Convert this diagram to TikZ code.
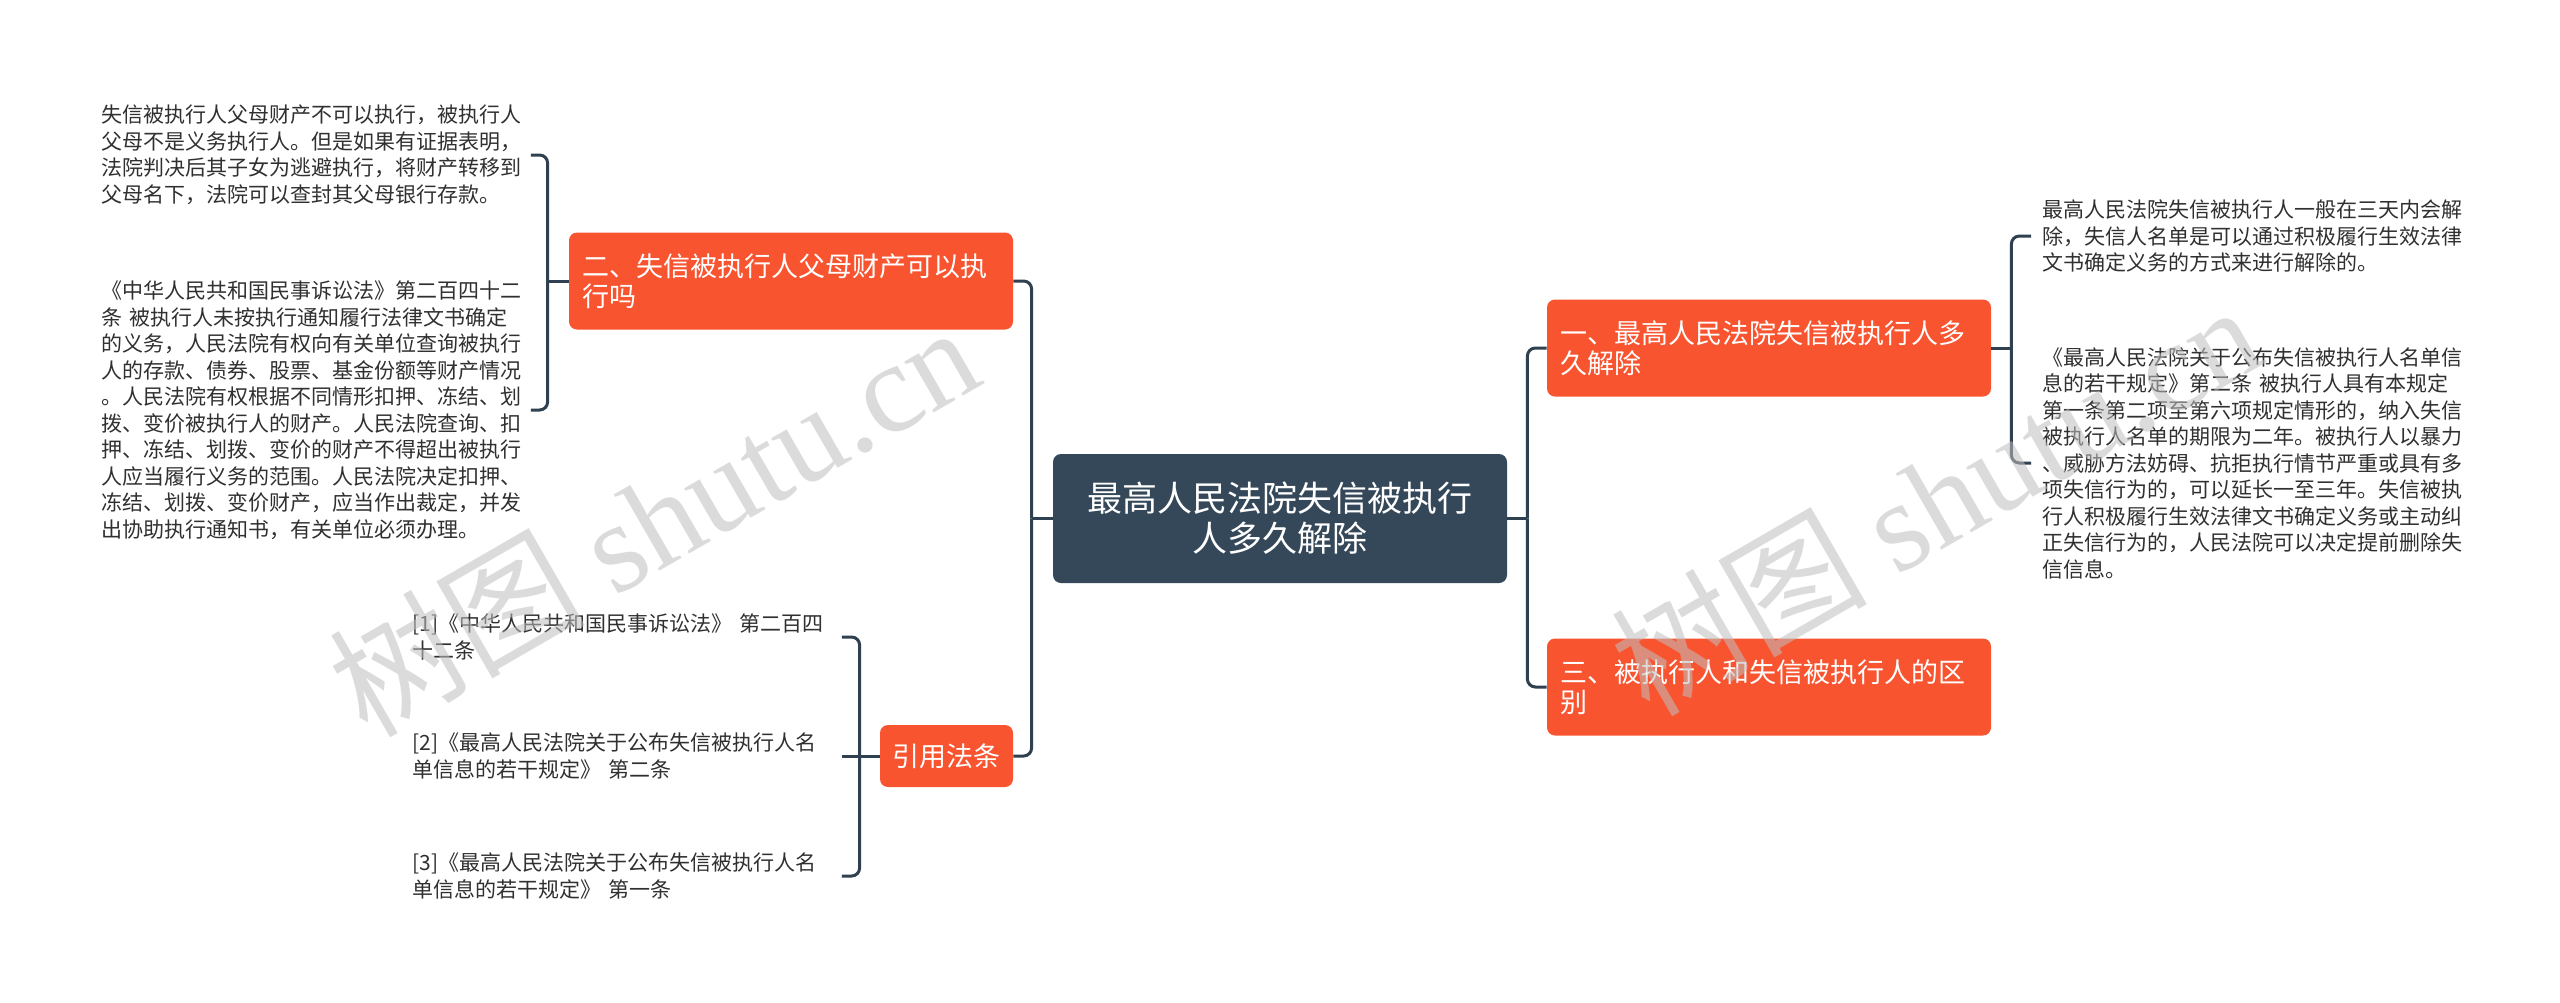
\documentclass[tikz,border=0pt]{standalone}
\usepackage{fontspec}
\setmainfont{Noto Sans CJK SC}
\newfontfamily\wmserif{Liberation Serif}
\usepackage{xcolor}
\usepackage{tikz}

\definecolor{rootblue}{HTML}{354859}
\definecolor{topicred}{HTML}{F95430}
\definecolor{linkblue}{HTML}{2F4051}
\definecolor{leafgray}{HTML}{303030}

\begin{document}
\begin{tikzpicture}[
  x=0.5pt, y=-0.5pt,
  every node/.style={inner sep=0pt},
  root/.style={fill=rootblue, rounded corners=4pt, text=white, minimum width=227pt, minimum height=64.5pt, align=center, font=\fontsize{17.5}{20}\selectfont},
  topic/.style={fill=topicred, rounded corners=4pt, text=white, text width=209pt, inner xsep=6.5pt, minimum height=48.5pt, align=left, font=\fontsize{13.5}{15}\selectfont},
  lawtag/.style={fill=topicred, rounded corners=4pt, text=white, minimum width=66.5pt, minimum height=31pt, align=center, font=\fontsize{13.5}{15}\selectfont},
  leaf/.style={text=leafgray, text width=209pt, inner xsep=5.5pt, align=left, font=\fontsize{10.5}{13.25}\selectfont},
  link/.style={draw=linkblue, line width=1.5pt, rounded corners=4pt},
  wmark/.style={text=gray!50, opacity=0.55, font=\fontsize{64}{64}\selectfont}
]

\fill[white] (0,0) rectangle (2560,1002);
\useasboundingbox (0,0) rectangle (2560,1002);

\node[root] (root) at (1280,518.5) {最高人民法院失信被执行\\人多久解除};

\node[topic] (fumu) at (791,281) {二、失信被执行人父母财产可以执\\行吗};
\node[lawtag] (fatiao) at (946.5,756) {引用法条};
\node[topic] (jiechu) at (1769,348) {一、最高人民法院失信被执行人多\\久解除};
\node[topic] (qubie) at (1769,687) {三、被执行人和失信被执行人的区\\别};

\node[leaf, anchor=west] (fumu1) at (90,155) {失信被执行人父母财产不可以执行，被执行人\\父母不是义务执行人。但是如果有证据表明，\\法院判决后其子女为逃避执行，将财产转移到\\父母名下，法院可以查封其父母银行存款。};
\node[leaf, anchor=west] (fumu2) at (90,410) {《中华人民共和国民事诉讼法》第二百四十二\\条 被执行人未按执行通知履行法律文书确定\\的义务，人民法院有权向有关单位查询被执行\\人的存款、债券、股票、基金份额等财产情况\\。人民法院有权根据不同情形扣押、冻结、划\\拨、变价被执行人的财产。人民法院查询、扣\\押、冻结、划拨、变价的财产不得超出被执行\\人应当履行义务的范围。人民法院决定扣押、\\冻结、划拨、变价财产，应当作出裁定，并发\\出协助执行通知书，有关单位必须办理。};

\node[leaf, anchor=west] (fatiao1) at (401,637) {[1]《中华人民共和国民事诉讼法》 第二百四\\十二条};
\node[leaf, anchor=west] (fatiao2) at (401,756) {[2]《最高人民法院关于公布失信被执行人名\\单信息的若干规定》 第二条};
\node[leaf, anchor=west] (fatiao3) at (401,876) {[3]《最高人民法院关于公布失信被执行人名\\单信息的若干规定》 第一条};

\node[leaf, anchor=west] (jiechu1) at (2031,236) {最高人民法院失信被执行人一般在三天内会解\\除，失信人名单是可以通过积极履行生效法律\\文书确定义务的方式来进行解除的。};
\node[leaf, anchor=west] (jiechu2) at (2031,463) {《最高人民法院关于公布失信被执行人名单信\\息的若干规定》第二条 被执行人具有本规定\\第一条第二项至第六项规定情形的，纳入失信\\被执行人名单的期限为二年。被执行人以暴力\\、威胁方法妨碍、抗拒执行情节严重或具有多\\项失信行为的，可以延长一至三年。失信被执\\行人积极履行生效法律文书确定义务或主动纠\\正失信行为的，人民法院可以决定提前删除失\\信信息。};

\draw[link] (root.west) -- ++(-21,0) coordinate (rootl);
\draw[link] (rootl) |- (fumu.east);
\draw[link] (rootl) |- (fatiao.east);
\draw[link] (root.east) -- ++(20,0) coordinate (rootr);
\draw[link] (rootr) |- (jiechu.west);
\draw[link] (rootr) |- (qubie.west);

\draw[link] (fumu.west) -- ++(-21,0) coordinate (fumuj);
\draw[link] (fumuj) |- (fumu1.east);
\draw[link] (fumuj) |- (fumu2.east);

\draw[link] (fatiao.west) -- ++(-20,0) coordinate (fatiaoj);
\draw[link] (fatiaoj) |- (fatiao1.east);
\draw[link] (fatiaoj) -- (fatiao2.east);
\draw[link] (fatiaoj) |- (fatiao3.east);

\draw[link] (jiechu.east) -- ++(20,0) coordinate (jiechuj);
\draw[link] (jiechuj) |- (jiechu1.west);
\draw[link] (jiechuj) |- (jiechu2.west);

\node[wmark, rotate=30] (wmleft) at (653,519) {树图 {\wmserif shutu.cn}};
\node[wmark, rotate=30] (wmright) at (1935,498) {树图 {\wmserif shutu.cn}};

\end{tikzpicture}
\end{document}
